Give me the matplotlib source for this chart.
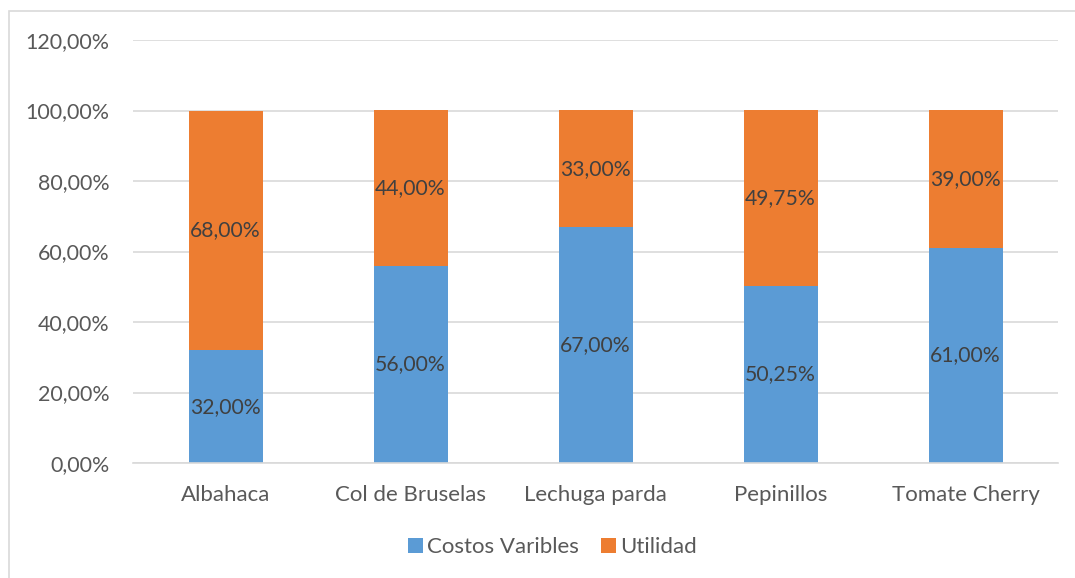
import matplotlib.pyplot as plt
from matplotlib.patches import Rectangle

plt.rcParams['font.family'] = ['Lato', 'DejaVu Sans']

# Composición porcentual por producto
productos = ["Albahaca", "Col de Bruselas", "Lechuga parda", "Pepinillos", "Tomate Cherry"]
costos_variables = [32.00, 56.00, 67.00, 50.25, 61.00]
utilidad = [68.00, 44.00, 33.00, 49.75, 39.00]
ticks_y = [0, 20, 40, 60, 80, 100, 120]

azul = "#5B9BD5"
naranja = "#ED7D31"
gris_texto = "#595959"


def formato_pct(v):
    return f"{v:.2f}%".replace(".", ",")


fig = plt.figure(figsize=(10.75, 5.78), dpi=100)
ax = fig.add_axes([133 / 1075, 1 - 463 / 578, 925 / 1075, 423 / 578])

x = range(len(productos))
b1 = ax.bar(x, costos_variables, width=0.4, color=azul, label="Costos Varibles", zorder=2)
b2 = ax.bar(x, utilidad, width=0.4, bottom=costos_variables, color=naranja,
            label="Utilidad", zorder=2)

for barras, valores in ((b1, costos_variables), (b2, utilidad)):
    ax.bar_label(barras, labels=[formato_pct(v) for v in valores], label_type="center",
                 fontsize=15.2, color="#404040")

ax.set_xlim(-0.5, len(productos) - 0.5)
ax.set_ylim(0, 120)
ax.set_yticks(ticks_y)
ax.set_yticklabels([formato_pct(v) for v in ticks_y], fontsize=15.4)
ax.set_xticks(list(x))
ax.set_xticklabels(productos, fontsize=16)
ax.tick_params(axis="both", length=0, colors=gris_texto)
ax.tick_params(axis="x", pad=16)
ax.tick_params(axis="y", pad=17)
ax.grid(axis="y", color="#D9D9D9", linewidth=1.2, zorder=0)
for lado in ("top", "right", "left"):
    ax.spines[lado].set_visible(False)
ax.spines["bottom"].set_color("#D9D9D9")
ax.spines["bottom"].set_linewidth(1.2)

fig.legend(loc="center", bbox_to_anchor=(0.5 + 15 / 1075, 1 - 547 / 578), ncol=2,
           frameon=False, fontsize=16, labelcolor=gris_texto, handlelength=0.65,
           handleheight=0.65, handletextpad=0.2, columnspacing=1.0)

# Marco del gráfico
fig.patches.append(Rectangle((9 / 1075, -0.05), 1.1, 1 - 11 / 578 + 0.05,
                             transform=fig.transFigure, fill=False,
                             edgecolor="#D9D9D9", linewidth=1.2))

fig.savefig("out.png", dpi=100)
